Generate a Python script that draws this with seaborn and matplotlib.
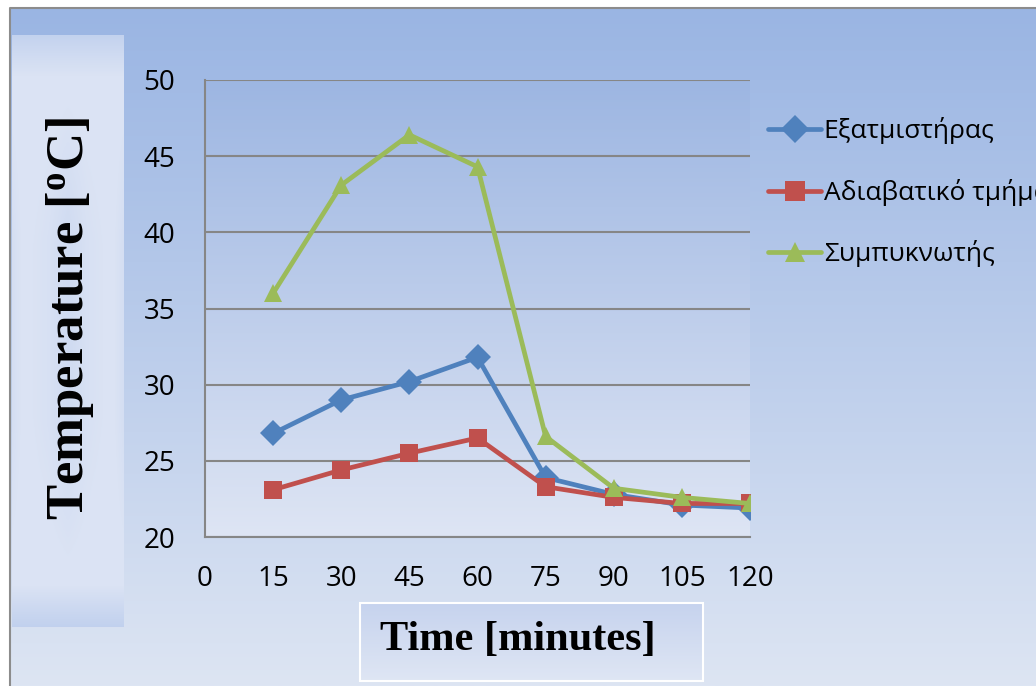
import numpy as np
import pandas as pd
import matplotlib
matplotlib.use("Agg")
import matplotlib.pyplot as plt
import seaborn as sns
from matplotlib.patches import Rectangle
from matplotlib.colors import LinearSegmentedColormap

# ---- data ----
time_min = [15, 30, 45, 60, 75, 90, 105, 120]
evaporator = [26.8, 29.0, 30.2, 31.8, 23.9, 22.8, 22.1, 21.9]
adiabatic = [23.1, 24.4, 25.5, 26.5, 23.3, 22.6, 22.2, 22.2]
condenser = [36.0, 43.1, 46.4, 44.3, 26.6, 23.2, 22.6, 22.2]
series_names = ["Εξατμιστήρας", "Αδιαβατικό τμήμα", "Συμπυκνωτής"]
x_ticks = [0, 15, 30, 45, 60, 75, 90, 105, 120]
y_ticks = [20, 25, 30, 35, 40, 45, 50]

df = pd.DataFrame({
    "time": time_min * 3,
    "temp": evaporator + adiabatic + condenser,
    "series": [series_names[0]] * 8 + [series_names[1]] * 8 + [series_names[2]] * 8,
})

sns.set_theme(style="white")
plt.rcParams['font.family'] = ['Open Sans', 'DejaVu Sans']

W, H = 1036, 686
fig = plt.figure(figsize=(W / 100, H / 100), dpi=100)
fig.patch.set_facecolor("white")

# background axes in pixel coordinates
bg = fig.add_axes([0, 0, 1, 1], zorder=0)
bg.set_xlim(0, W)
bg.set_ylim(H, 0)
bg.axis("off")

grad_cmap = LinearSegmentedColormap.from_list("g", ["#9AB5E3", "#DDE5F3"])
vgrad = np.linspace(0, 1, 256).reshape(-1, 1)
bg.imshow(vgrad, cmap=grad_cmap, extent=[10, W, H, 8], aspect="auto", zorder=0)
bg.plot([10, 10, W], [H, 8, 8], color="#8C8C8C", lw=1.5, zorder=1)

# y label box with soft vertical/horizontal shading
yy, xx = np.mgrid[0:1:300j, -1:1:80j]
vprof = np.interp(yy, [0, 0.035, 0.07, 0.93, 0.965, 1.0], [0.35, 0.65, 0.92, 0.92, 0.6, 0.3])
hprof = np.interp(np.abs(xx), [0, 0.35, 0.8, 1.0], [0.62, 0.82, 0.95, 0.75])
wv = np.interp(yy, [0, 0.1, 0.35, 0.65, 0.9, 1.0], [0, 0.2, 1, 1, 0.2, 0])
hmix = 1 - (1 - hprof) * wv
shade = np.minimum(vprof, hmix)
box_cmap = LinearSegmentedColormap.from_list("b", ["#B5C8EB", "#DFE6F5"])
bg.imshow(shade, cmap=box_cmap, vmin=0, vmax=1, extent=[12, 124, 627, 35],
          aspect="auto", zorder=2, interpolation="bilinear")
bg.text(70, 318, "Temperature [$\\mathregular{^o}$C]", rotation=90, ha="center", va="center",
        fontsize=38, fontweight="bold", family="Liberation Serif", color="black", zorder=3)

# x label box
xcmap = LinearSegmentedColormap.from_list("x", ["#C6D3EE", "#DFE6F4"])
bg.imshow(vgrad, cmap=xcmap, extent=[360, 703, 681, 603], aspect="auto", zorder=2)
bg.add_patch(Rectangle((360, 603), 343, 78, fill=False, ec="white", lw=1.5, zorder=3))
bg.text(518, 640, "Time [minutes]", ha="center", va="center",
        fontsize=30.5, fontweight="bold", family="Liberation Serif", color="black", zorder=3)

# main axes
ax = fig.add_axes([205 / W, 1 - 537 / H, (750 - 205) / W, (537 - 80) / H], zorder=1)
ax.set_facecolor("none")
pa_cmap = LinearSegmentedColormap.from_list("p", ["#9DB6E2", "#DEE5F4"])
ax.imshow(vgrad, cmap=pa_cmap, extent=[0, 1, 0, 1], transform=ax.transAxes,
          aspect="auto", zorder=0)

palette = {series_names[0]: "#4F81BD", series_names[1]: "#C0504D", series_names[2]: "#9BBB59"}
markers = {series_names[0]: "D", series_names[1]: "s", series_names[2]: "^"}
sns.lineplot(data=df, x="time", y="temp", hue="series", style="series",
             palette=palette, markers=markers, dashes=False, lw=3.4,
             markersize=13, markeredgewidth=0, ax=ax, zorder=3, legend=True)

ax.set_xlim(0, 120)
ax.set_ylim(20, 50)
ax.set_xticks(x_ticks)
ax.set_yticks(y_ticks)
ax.set_xlabel("")
ax.set_ylabel("")
ax.grid(axis="y", color="#868686", lw=1.5, zorder=1)
ax.grid(axis="x", visible=False)
ax.set_axisbelow(True)
for s in ["top", "right"]:
    ax.spines[s].set_visible(False)
for s in ["left", "bottom"]:
    ax.spines[s].set_color("#868686")
    ax.spines[s].set_linewidth(1.5)
ax.tick_params(axis="both", which="major", direction="out", length=7.5, width=1.5,
               color="#868686", labelsize=20, labelcolor="black")
ax.tick_params(axis="y", pad=14)
ax.tick_params(axis="x", pad=13)

leg = ax.legend(loc="upper left", bbox_to_anchor=(0.99, 0.97), frameon=False,
                fontsize=19, handlelength=2.0, labelspacing=1.3, handletextpad=0.1,
                markerscale=1.1)
for t in leg.get_texts():
    t.set_color("black")

fig.savefig("out.png", dpi=100)
